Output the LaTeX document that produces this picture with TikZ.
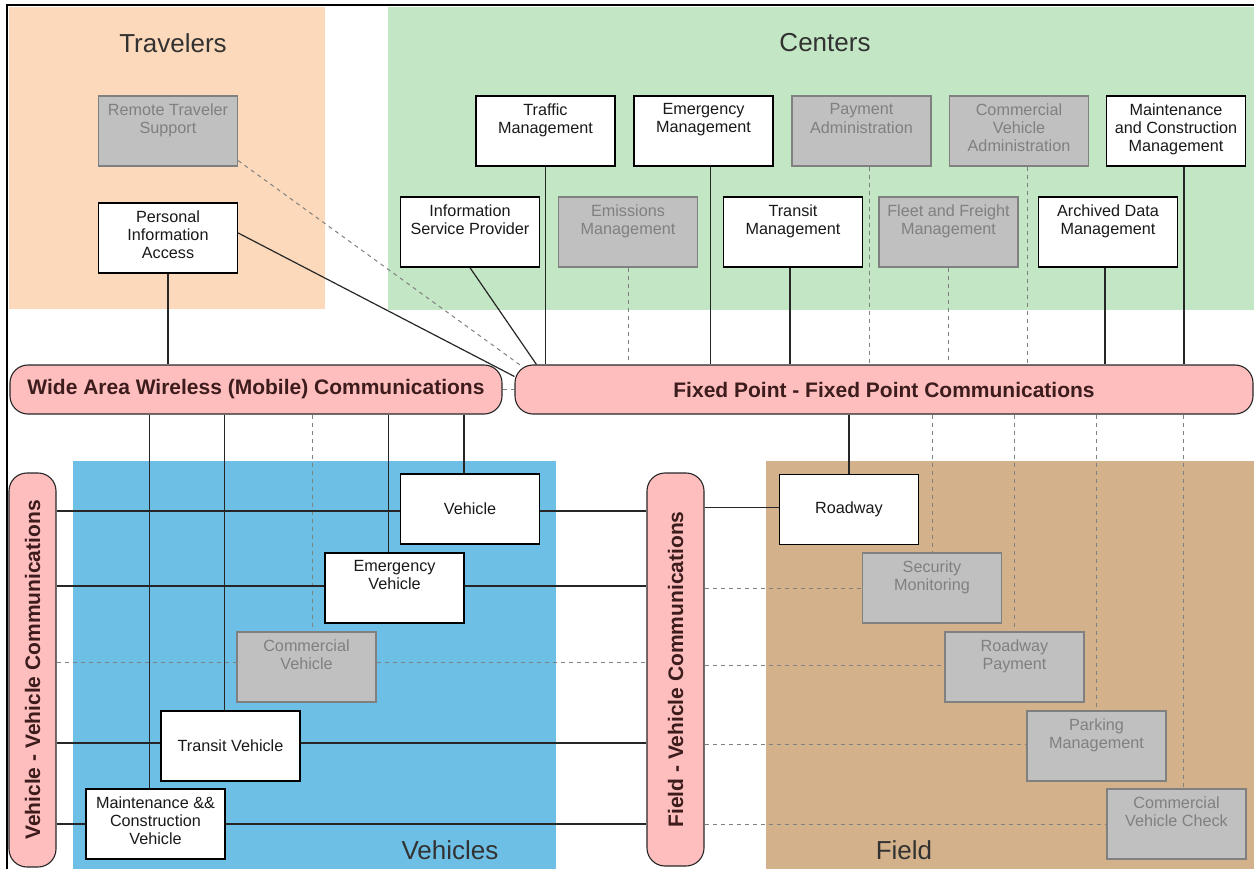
\documentclass[tikz,border=0pt]{standalone}
\usepackage{fontspec}
\setmainfont{Liberation Sans}
\usetikzlibrary{positioning}

\definecolor{travelers}{RGB}{252,217,186}
\definecolor{centers}{RGB}{195,230,196}
\definecolor{vehicles}{RGB}{110,191,230}
\definecolor{fieldtan}{RGB}{211,177,138}
\definecolor{pillpink}{RGB}{255,190,190}
\definecolor{boxgray}{RGB}{192,192,192}
\definecolor{graytext}{RGB}{128,128,128}
\definecolor{pillink}{RGB}{60,28,28}
\definecolor{titleink}{RGB}{50,50,50}

\newcommand{\sysfont}{\fontsize{16.2}{18.3}\selectfont}
\newcommand{\pillfont}{\bfseries\fontsize{21}{24}\selectfont}
\newcommand{\titlefont}{\fontsize{26}{30}\selectfont}

\begin{document}
\begin{tikzpicture}[x=1pt, y=-1pt,
  sys/.style={draw=black, line width=1.4pt, fill=white, minimum width=139pt,
    minimum height=70pt, inner sep=0pt, font=\sysfont, text=black!90},
  sysoff/.style={sys, draw=graytext, line width=1.1pt, fill=boxgray, text=graytext},
  boxlbl/.style={anchor=north, align=center, inner sep=0pt, yshift=-8pt,
    font=\sysfont, text=black!90},
  boxlbloff/.style={boxlbl, text=graytext},
  pill/.style={draw=black!85, line width=1.1pt, fill=pillpink, rounded corners=18pt,
    inner sep=0pt, font=\pillfont, text=pillink},
  title/.style={font=\titlefont, text=titleink, inner sep=0pt},
  wire/.style={line width=1.2pt, draw=black!85},
  optwire/.style={line width=1pt, draw=black!50, dash pattern=on 4pt off 4pt}]

  \clip (0,0) rectangle (1254,869);

  % Regiones de fondo
  \fill[travelers] (9,7) rectangle (325,309);
  \fill[centers] (388,7) rectangle (1254,310);
  \fill[vehicles] (73,461) rectangle (556,869);
  \fill[fieldtan] (766,461) rectangle (1254,869);
  \draw[line width=1.2pt] (7,5) rectangle (1270,890);

  % Titulos de las regiones
  \node[title] (ttrav) at (173,43) {Travelers};
  \node[title] (tcent) at (825,43) {Centers};
  \node[title] (tveh) at (450,850) {Vehicles};
  \node[title] (tfield) at (904,850) {Field};

  % Buses de comunicacion
  \node[pill, minimum width=492pt, minimum height=49pt] (waw) at (256,389.5)
    {Wide Area Wireless (Mobile) Communications};
  \node[pill, minimum width=738pt, minimum height=49pt] (fpp) at (884,389.5)
    {Fixed Point - Fixed Point Communications};
  \node[pill, minimum width=47pt, minimum height=394pt] (vvp) at (32.5,670)
    {\rotatebox{90}{Vehicle - Vehicle Communications}};
  \node[pill, minimum width=57pt, minimum height=393pt] (fvp) at (675.5,669.5)
    {\rotatebox{90}{Field - Vehicle Communications}};

  % Travelers
  \node[sysoff, label={[boxlbloff]north:Remote Traveler\\Support}] (rts) at (168,131) {};
  \node[sys, label={[boxlbl]north:Personal\\Information\\Access}] (pia) at (168,238) {};

  % Centers
  \node[sys, label={[boxlbl]north:Traffic\\Management}] (tm) at (545.5,131) {};
  \node[sys, label={[boxlbl]north:Emergency\\Management}] (em) at (703.5,131) {};
  \node[sysoff, label={[boxlbloff]north:Payment\\Administration}] (pa) at (861.5,131) {};
  \node[sysoff, label={[boxlbloff]north:Commercial\\Vehicle\\Administration}] (cva) at (1019,131) {};
  \node[sys, label={[boxlbl]north:Maintenance\\and Construction\\Management}] (mcm) at (1176,131) {};
  \node[sys, label={[boxlbl]north:Information\\Service Provider}] (isp) at (470,232) {};
  \node[sysoff, label={[boxlbloff]north:Emissions\\Management}] (emm) at (628,232) {};
  \node[sys, label={[boxlbl]north:Transit\\Management}] (trm) at (793,232) {};
  \node[sysoff, label={[boxlbloff]north:Fleet and Freight\\Management}] (ffm) at (948.5,232) {};
  \node[sys, label={[boxlbl]north:Archived Data\\Management}] (adm) at (1108,232) {};

  % Vehicles
  \node[sys] (veh) at (470,509) {Vehicle};
  \node[sys, label={[boxlbl]north:Emergency\\Vehicle}] (ev) at (394.5,588) {};
  \node[sysoff, label={[boxlbloff]north:Commercial\\Vehicle}] (cv) at (306.5,667) {};
  \node[sys] (tv) at (230.5,746) {Transit Vehicle};
  \node[sys, label={[boxlbl]north:Maintenance \&\&\\Construction\\Vehicle}] (mcv) at (155.5,824) {};

  % Field
  \node[sys] (rw) at (849,509.5) {Roadway};
  \node[sysoff, label={[boxlbloff]north:Security\\Monitoring}] (sm) at (932,588) {};
  \node[sysoff, label={[boxlbloff]north:Roadway\\Payment}] (rp) at (1014.5,667) {};
  \node[sysoff, label={[boxlbloff]north:Parking\\Management}] (prk) at (1096.5,746) {};
  \node[sysoff, label={[boxlbloff]north:Commercial\\Vehicle Check}] (cvc) at (1176.5,824) {};

  % Enlaces de Travelers
  \draw[wire] (pia.south) -- (pia.south |- waw.north);
  \draw[wire] ([yshift=5pt]pia.east) -- ([yshift=13pt]fpp.west);
  \draw[optwire] ([yshift=6pt]rts.south east) -- ([xshift=9pt,yshift=-3pt]fpp.north west);
  \draw[optwire] (waw.east) -- (fpp.west);

  % Enlaces de Centers al bus fijo
  \draw[wire] (isp.south) -- ([xshift=22pt]fpp.north west);
  \draw[wire] (tm.south) -- (tm.south |- fpp.north);
  \draw[wire] ([xshift=7pt]em.south) -- ([xshift=7pt]em.south |- fpp.north);
  \draw[optwire] ([xshift=8pt]pa.south) -- ([xshift=8pt]pa.south |- fpp.north);
  \draw[optwire] ([xshift=8pt]cva.south) -- ([xshift=8pt]cva.south |- fpp.north);
  \draw[wire] ([xshift=8pt]mcm.south) -- ([xshift=8pt]mcm.south |- fpp.north);
  \draw[optwire] (emm.south) -- (emm.south |- fpp.north);
  \draw[wire] ([xshift=-3pt]trm.south) -- ([xshift=-3pt]trm.south |- fpp.north);
  \draw[optwire] (ffm.south) -- (ffm.south |- fpp.north);
  \draw[wire] ([xshift=-3pt]adm.south) -- ([xshift=-3pt]adm.south |- fpp.north);

  % Enlaces del bus movil a Vehicles
  \draw[wire] ([xshift=-6pt]mcv.north |- waw.south) -- ([xshift=-6pt]mcv.north);
  \draw[wire] ([xshift=-6pt]tv.north |- waw.south) -- ([xshift=-6pt]tv.north);
  \draw[optwire] ([xshift=6pt]cv.north |- waw.south) -- ([xshift=6pt]cv.north);
  \draw[wire] ([xshift=-6pt]ev.north |- waw.south) -- ([xshift=-6pt]ev.north);
  \draw[wire] ([xshift=-6pt]veh.north |- waw.south) -- ([xshift=-6pt]veh.north);

  % Enlaces del bus fijo a Field
  \draw[wire] (rw.north |- fpp.south) -- (rw.north);
  \draw[optwire] (sm.north |- fpp.south) -- (sm.north);
  \draw[optwire] (rp.north |- fpp.south) -- (rp.north);
  \draw[optwire] (prk.north |- fpp.south) -- (prk.north);
  \draw[optwire] ([xshift=7pt]cvc.north |- fpp.south) -- ([xshift=7pt]cvc.north);

  % Filas vehicle - vehicle y field - vehicle
  \draw[wire] ([yshift=-2pt]vvp.east |- veh.west) -- ([yshift=-2pt]veh.west);
  \draw[wire] ([yshift=-2pt]veh.east) -- ([yshift=-2pt]veh.east -| fvp.west);
  \draw[wire] ([yshift=2pt]vvp.east |- ev.west) -- ([yshift=2pt]ev.west);
  \draw[wire] ([yshift=2pt]ev.east) -- ([yshift=2pt]ev.east -| fvp.west);
  \draw[optwire] ([yshift=5pt]vvp.east |- cv.west) -- ([yshift=5pt]cv.west);
  \draw[optwire] ([yshift=5pt]cv.east) -- ([yshift=5pt]cv.east -| fvp.west);
  \draw[wire] ([yshift=3pt]vvp.east |- tv.west) -- ([yshift=3pt]tv.west);
  \draw[wire] ([yshift=3pt]tv.east) -- ([yshift=3pt]tv.east -| fvp.west);
  \draw[wire] (vvp.east |- mcv.west) -- (mcv.west);
  \draw[wire] (mcv.east) -- (mcv.east -| fvp.west);
  \draw[wire] ([yshift=2pt]fvp.east |- rw.west) -- ([yshift=2pt]rw.west);
  \draw[optwire] (fvp.east |- sm.west) -- (sm.west);
  \draw[optwire] ([yshift=2pt]fvp.east |- rp.west) -- ([yshift=2pt]rp.west);
  \draw[optwire] ([yshift=2pt]fvp.east |- prk.west) -- ([yshift=2pt]prk.west);
  \draw[optwire] (fvp.east |- cvc.west) -- (cvc.west);
\end{tikzpicture}
\end{document}
